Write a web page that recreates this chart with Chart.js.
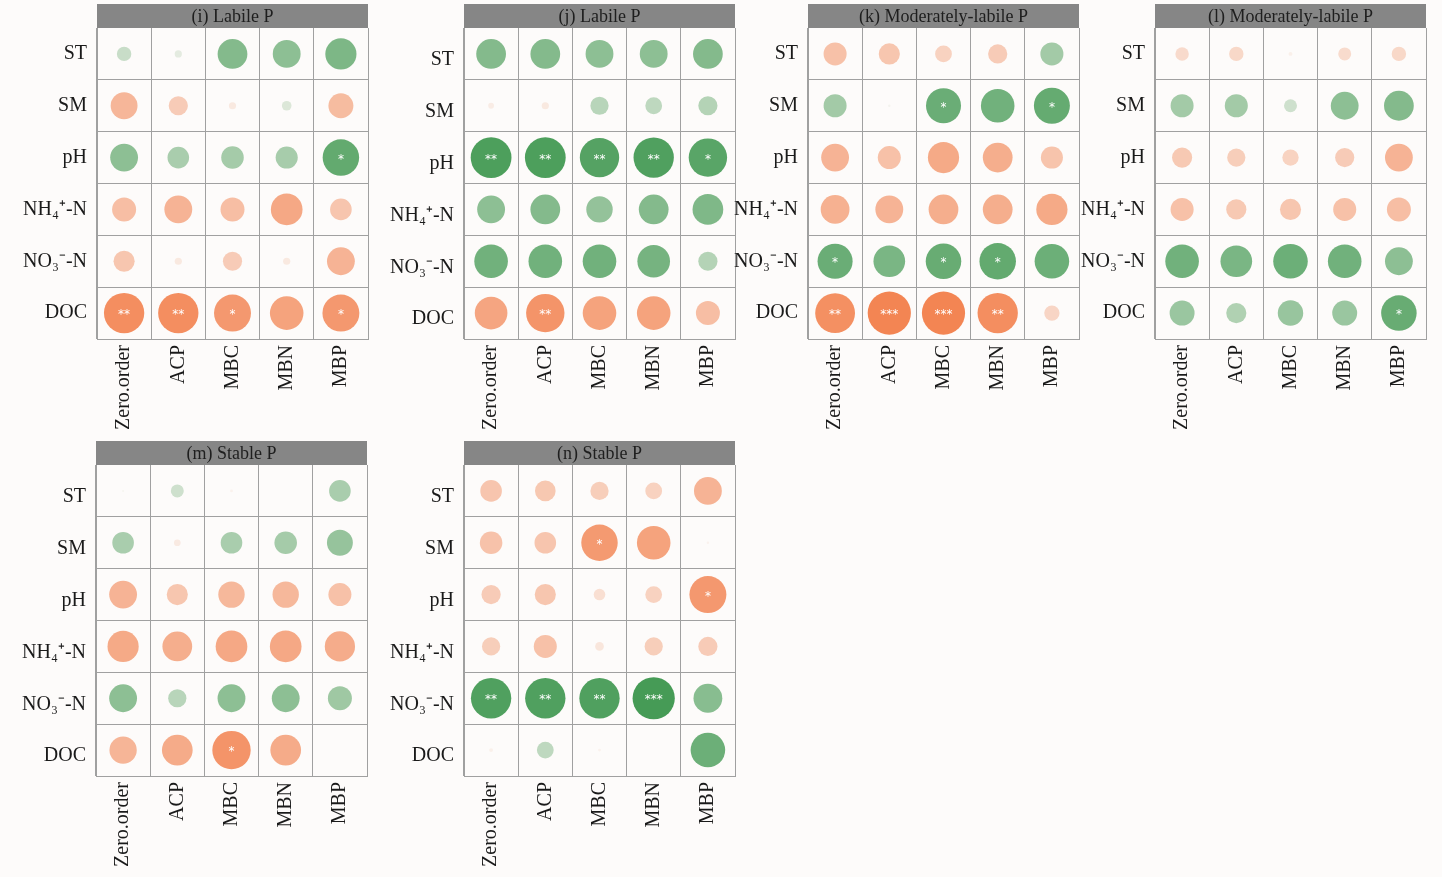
<!DOCTYPE html>
<html>
<head>
<meta charset="utf-8">
<script src="https://cdn.jsdelivr.net/npm/chart.js@4/dist/chart.umd.min.js"></script>
<style>
  body { margin: 0; background: #fdfbfa; width: 1442px; height: 877px; overflow: hidden; position: relative; }
  canvas { position: absolute; }
</style>
</head>
<body>
<script>
// columns and rows of every panel
const cols = ["Zero.order", "ACP", "MBC", "MBN", "MBP"];
const rows = ["ST", "SM", "pH", "NH₄⁺-N", "NO₃⁻-N", "DOC"];

// correlation coefficients (rows x cols)
const labileI = [
  [0.30, 0.15, 0.62, 0.58, 0.65],
  [-0.56, -0.40, -0.15, 0.20, -0.52],
  [0.58, 0.45, 0.47, 0.46, 0.76],
  [-0.50, -0.58, -0.50, -0.66, -0.45],
  [-0.44, -0.15, -0.40, -0.15, -0.58],
  [-0.84, -0.84, -0.77, -0.70, -0.77]
];
const labileJ = [
  [0.62, 0.62, 0.58, 0.58, 0.62],
  [-0.12, -0.15, 0.38, 0.35, 0.40],
  [0.85, 0.85, 0.82, 0.84, 0.80],
  [0.58, 0.62, 0.55, 0.62, 0.64],
  [0.70, 0.70, 0.70, 0.68, 0.40],
  [-0.68, -0.80, -0.70, -0.70, -0.50]
];
const modK = [
  [-0.48, -0.44, -0.35, -0.40, 0.48],
  [0.48, 0.05, 0.73, 0.70, 0.75],
  [-0.58, -0.48, -0.65, -0.62, -0.46],
  [-0.60, -0.58, -0.62, -0.62, -0.65],
  [0.73, 0.66, 0.74, 0.76, 0.72],
  [-0.83, -0.90, -0.90, -0.84, -0.32]
];
const modL = [
  [-0.28, -0.30, -0.08, -0.27, -0.30],
  [0.48, 0.48, 0.27, 0.58, 0.62],
  [-0.42, -0.38, -0.34, -0.40, -0.58],
  [-0.48, -0.42, -0.44, -0.48, -0.50],
  [0.70, 0.66, 0.72, 0.70, 0.58],
  [0.52, 0.42, 0.53, 0.52, 0.74]
];
const stableM = [
  [0.04, 0.27, -0.06, 0.00, 0.45],
  [0.45, -0.14, 0.45, 0.47, 0.54],
  [-0.58, -0.44, -0.55, -0.55, -0.48],
  [-0.65, -0.62, -0.66, -0.66, -0.63],
  [0.58, 0.38, 0.58, 0.58, 0.50],
  [-0.57, -0.64, -0.80, -0.64, 0.00]
];
const stableN = [
  [-0.45, -0.43, -0.38, -0.35, -0.58],
  [-0.47, -0.45, -0.76, -0.70, -0.05],
  [-0.40, -0.44, -0.24, -0.35, -0.77],
  [-0.38, -0.48, -0.18, -0.38, -0.40],
  [0.84, 0.84, 0.84, 0.88, 0.60],
  [-0.08, 0.35, -0.06, 0.00, 0.72]
];

// significance marks
const sigI = [["","","","",""],["","","","",""],["","","","","*"],["","","","",""],["","","","",""],["**","**","*","","*"]];
const sigJ = [["","","","",""],["","","","",""],["**","**","**","**","*"],["","","","",""],["","","","",""],["","**","","",""]];
const sigK = [["","","","",""],["","","*","","*"],["","","","",""],["","","","",""],["*","","*","*",""],["**","***","***","**",""]];
const sigL = [["","","","",""],["","","","",""],["","","","",""],["","","","",""],["","","","",""],["","","","","*"]];
const sigM = [["","","","",""],["","","","",""],["","","","",""],["","","","",""],["","","","",""],["","","*","",""]];
const sigN = [["","","","",""],["","","*","",""],["","","","","*"],["","","","",""],["**","**","**","***",""],["","","","",""]];

const panels = [
  { title: "(i) Labile P", r: labileI, sig: sigI, left: 97, top: 4, shift: 0 },
  { title: "(j) Labile P", r: labileJ, sig: sigJ, left: 464, top: 4, shift: 6 },
  { title: "(k) Moderately-labile P", r: modK, sig: sigK, left: 808, top: 4, shift: 0 },
  { title: "(l) Moderately-labile P", r: modL, sig: sigL, left: 1155, top: 4, shift: 0 },
  { title: "(m) Stable P", r: stableM, sig: sigM, left: 96, top: 441, shift: 6 },
  { title: "(n) Stable P", r: stableN, sig: sigN, left: 464, top: 441, shift: 6 }
];

const W = 96, H = 100, HEAD = 24, GW = 271, GH = 311, RMAX = 24;

function mix(a, b, t) {
  return `rgb(${a.map((v, i) => Math.round(v + (b[i] - v) * t)).join(",")})`;
}
function colour(v) {
  const base = [250, 246, 243];
  const t = Math.pow(Math.abs(v), 1.2);
  return v >= 0 ? mix(base, [40, 140, 60], t) : mix(base, [242, 118, 62], t);
}

const headerPlugin = {
  id: "header",
  afterDraw(chart, args, opts) {
    const { ctx, chartArea: a } = chart;
    ctx.save();
    ctx.fillStyle = "#868686";
    ctx.fillRect(a.left, a.top - HEAD, a.right - a.left, HEAD);
    ctx.fillStyle = "#1e1e1e";
    ctx.font = '18px "Liberation Serif"';
    ctx.textAlign = "center";
    ctx.textBaseline = "middle";
    ctx.fillText(opts.text, (a.left + a.right) / 2, a.top - HEAD / 2 + 1);
    // stars
    ctx.fillStyle = "#ffffff";
    ctx.font = '12px "DejaVu Sans"';
    const pts = chart.data.datasets[0].data;
    chart.getDatasetMeta(0).data.forEach((el, i) => {
      if (pts[i].s) ctx.fillText(pts[i].s, el.x, el.y + 2);
    });
    ctx.restore();
  }
};

panels.forEach(p => {
  const cv = document.createElement("canvas");
  cv.width = W + GW + 2;
  cv.height = HEAD + GH + H;
  cv.style.left = (p.left - W) + "px";
  cv.style.top = p.top + "px";
  document.body.appendChild(cv);

  const pts = [];
  rows.forEach((rn, i) => cols.forEach((cn, j) => {
    pts.push({ x: cn, y: rn, r: Math.abs(p.r[i][j]) * RMAX, v: p.r[i][j], s: p.sig[i][j] });
  }));

  new Chart(cv, {
    type: "bubble",
    data: {
      datasets: [{
        data: pts,
        backgroundColor: c => colour(c.raw.v),
        borderWidth: 0
      }]
    },
    options: {
      responsive: false,
      animation: false,
      events: [],
      layout: { autoPadding: false, padding: { top: HEAD, right: 2, left: 0, bottom: 0 } },
      plugins: {
        legend: { display: false },
        tooltip: { enabled: false },
        header: { text: p.title }
      },
      scales: {
        x: {
          type: "category",
          labels: cols,
          offset: true,
          grid: { offset: true, color: "#a0a0a0", drawTicks: false },
          border: { color: "#a0a0a0" },
          ticks: {
            autoSkip: false, minRotation: 90, maxRotation: 90, padding: 6,
            color: "#1a1a1a", font: { family: "Liberation Serif", size: 20 }
          },
          afterFit: s => { s.height = H; s.paddingLeft = 0; s.paddingRight = 0; }
        },
        y: {
          type: "category",
          labels: rows,
          offset: true,
          grid: { offset: true, color: "#a0a0a0", drawTicks: false },
          border: { color: "#a0a0a0" },
          ticks: {
            autoSkip: false, padding: 10, labelOffset: p.shift,
            color: "#1a1a1a", font: { family: "Liberation Serif", size: 20 }
          },
          afterFit: s => { s.width = W; s.paddingTop = 0; s.paddingBottom = 0; }
        }
      }
    },
    plugins: [headerPlugin]
  });
});
</script>
</body>
</html>
